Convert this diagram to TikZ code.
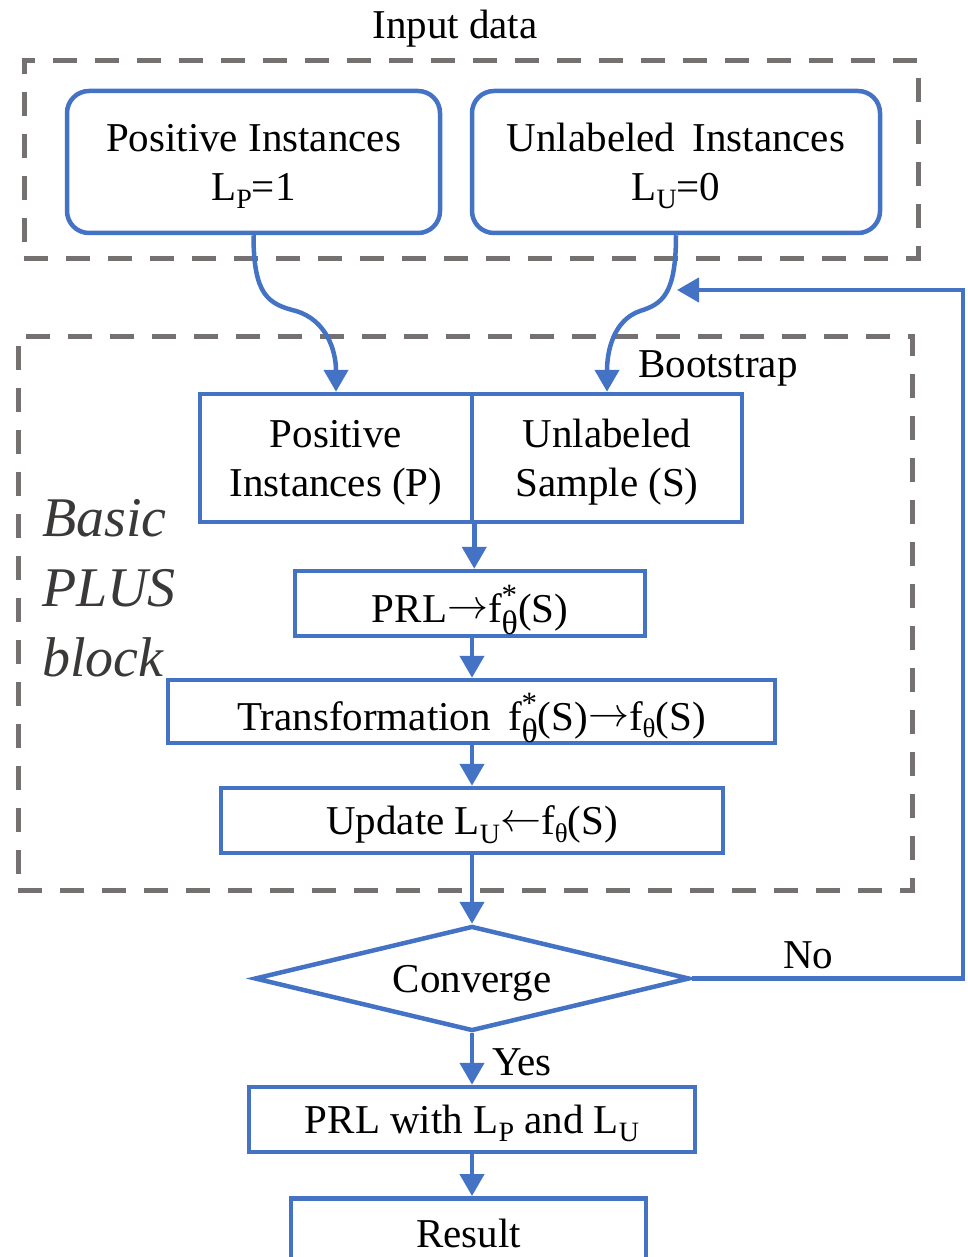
\RequirePackage{fix-cm}
\documentclass[tikz,border=0pt]{standalone}
\usepackage{fontspec}
\setmainfont{Liberation Serif}
\usetikzlibrary{arrows.meta,shapes.geometric}

\definecolor{flowblue}{HTML}{4472C4}
\definecolor{framegray}{HTML}{767171}
\definecolor{labelgray}{HTML}{3B3838}

% label subscripts, arrows and the f_theta symbols
\newcommand\lowsub[1]{\raisebox{-0.2em}{\fontsize{28}{28}\selectfont #1}}
\newcommand\fstar{f\rlap{\raisebox{0.42em}{\fontsize{31}{31}\selectfont *}}\raisebox{-0.3em}{\fontsize{34}{34}\selectfont θ}}
\newcommand\fsmall{f\raisebox{-0.18em}{\fontsize{27}{27}\selectfont θ}}
\newcommand\toarrow{\raisebox{0.08em}{$\rightarrow$}}
\newcommand\fromarrow{\raisebox{0.08em}{$\leftarrow$}}

\begin{document}
\begin{tikzpicture}[x=1pt,y=-1pt,
  font=\fontsize{41}{49}\selectfont,
  box/.style={draw=flowblue, line width=4.5pt, inner sep=0pt, align=center, text depth=0pt},
  roundbox/.style={box, rounded corners=22pt},
  frame/.style={draw=framegray, line width=5pt, dash pattern=on 24pt off 18pt, inner sep=0pt},
  flow/.style={draw=flowblue, line width=4.5pt, -{Triangle[width=24pt,length=22pt]}},
  plain/.style={inner sep=0pt}]

\useasboundingbox (0,0) rectangle (967,1257);
\clip (0,0) rectangle (967,1257);
\fill[white] (0,0) rectangle (967,1257);

% input data group
\node[frame, minimum width=894pt, minimum height=197pt] (inframe) at (471,159.5) {};
\node[plain, anchor=base] (intitle) at (455,39) {Input data};
\node[roundbox, minimum width=373pt, minimum height=142pt] (pos) at (253.5,162)
  {Positive Instances\\L\lowsub{P}=1};
\node[roundbox, minimum width=408pt, minimum height=142pt] (unl) at (676,162)
  {Unlabeled\hspace{0.42em}Instances\\L\lowsub{U}=0};

% basic PLUS block
\node[frame, minimum width=894pt, minimum height=554pt] (blockframe) at (465,613) {};
\node[plain, anchor=north west, align=left, text=labelgray,
  font=\itshape\fontsize{56}{70}\selectfont] (blocklabel) at (42,499) {Basic\\PLUS\\block};
\node[plain, anchor=base west] (boot) at (638,377) {Bootstrap};

\node[box, minimum width=272pt, minimum height=128pt] (posS) at (336,458) {Positive\\Instances (P)};
\node[box, minimum width=270pt, minimum height=128pt] (unlS) at (607,458) {Unlabeled\\Sample (S)};
\node[box, minimum width=350pt, minimum height=65pt] (prl) at (470,603.5) {PRL\toarrow\fstar(S)};
\node[box, minimum width=607pt, minimum height=63pt] (trans) at (471.5,711.5)
  {Transformation\hspace{0.42em}\fstar(S)\toarrow\fsmall(S)};
\node[box, minimum width=502pt, minimum height=65pt] (upd) at (472,820.5)
  {Update L\lowsub{U}\fromarrow\fsmall(S)};

% decision and output
\node[draw=flowblue, line width=4.5pt, diamond, aspect=4.14, inner sep=0pt, text depth=0pt,
  minimum width=435pt, minimum height=105pt] (conv) at (472,978.5) {Converge};
\node[box, minimum width=446pt, minimum height=65pt] (prlw) at (472,1119.5)
  {PRL with L\lowsub{P} and L\lowsub{U}};
\node[box, anchor=north, minimum width=355pt, minimum height=70pt] (res) at (468.5,1196) {Result};

\node[plain, anchor=base west] (nolab) at (783,968) {No};
\node[plain, anchor=base west] (yeslab) at (492,1075) {Yes};

% connectors
\draw[flow] (pos.south) .. controls (253.5,295) and (268,304) .. (296,311)
  .. controls (326,320) and (336,350) .. (posS.north);
\draw[flow] (unl.south) .. controls (676,295) and (662,304) .. (640,311)
  .. controls (614,320) and (607,350) .. (unlS.north);
\draw[flow] (posS.south east) -- (posS.south east |- prl.north);
\draw[flow] (prl.south -| conv.north) -- (trans.north -| conv.north);
\draw[flow] (trans.south -| conv.north) -- (upd.north -| conv.north);
\draw[flow] (upd.south -| conv.north) -- (conv.north);
\draw[flow] (conv.south) -- (prlw.north);
\draw[flow] (prlw.south) -- (prlw.south |- res.north);

\coordinate (fbcorner) at (963,978.5);
\coordinate (fbtip) at (677,290);
\draw[flow] (conv.east) -- (fbcorner) |- (fbtip);
\end{tikzpicture}
\end{document}
